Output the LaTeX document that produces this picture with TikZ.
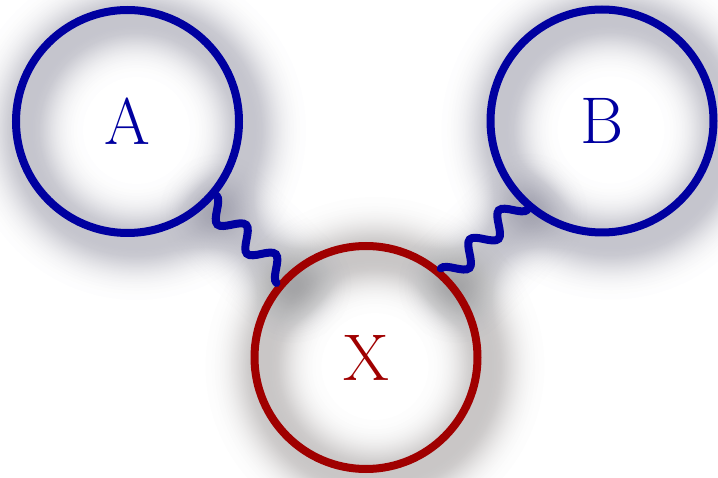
\documentclass[tikz,border=0pt]{standalone}
\usetikzlibrary{decorations}
\definecolor{nblue}{RGB}{0,0,160}
\definecolor{nred}{RGB}{160,0,0}
\definecolor{shdblue}{RGB}{45,45,75}
\definecolor{shdred}{RGB}{60,50,50}
\pgfdeclarelayer{shadowbg}
\pgfsetlayers{shadowbg,main}
% cosine-phase snake: starts at a crest, half periods
\pgfdeclaredecoration{cosnake}{start}{
  \state{start}[width=0pt, next state=down]{
    \pgfpathmoveto{\pgfpoint{0pt}{\pgfdecorationsegmentamplitude}}
  }
  \state{down}[switch if less than=0.5\pgfdecorationsegmentlength to final,
               width=0.5\pgfdecorationsegmentlength, next state=up]{
    \pgfpathcurveto
      {\pgfpoint{0.18*\pgfdecorationsegmentlength}{\pgfdecorationsegmentamplitude}}
      {\pgfpoint{0.32*\pgfdecorationsegmentlength}{-\pgfdecorationsegmentamplitude}}
      {\pgfpoint{0.5*\pgfdecorationsegmentlength}{-\pgfdecorationsegmentamplitude}}
  }
  \state{up}[switch if less than=0.5\pgfdecorationsegmentlength to final,
             width=0.5\pgfdecorationsegmentlength, next state=down]{
    \pgfpathcurveto
      {\pgfpoint{0.18*\pgfdecorationsegmentlength}{-\pgfdecorationsegmentamplitude}}
      {\pgfpoint{0.32*\pgfdecorationsegmentlength}{\pgfdecorationsegmentamplitude}}
      {\pgfpoint{0.5*\pgfdecorationsegmentlength}{\pgfdecorationsegmentamplitude}}
  }
  \state{final}{}
}
\begin{document}
\begin{tikzpicture}[x=1pt,y=-1pt,
  vnode/.style={circle, draw, line width=8pt, minimum size=223pt, inner sep=0pt,
    font=\fontsize{66}{72}\selectfont},
  wavy/.style={decorate, decoration={cosnake, segment length=#1, amplitude=10pt},
    line width=8pt, nblue, line cap=round},
  shadowlayer/.style={opacity=0.0078, line cap=round}]
\useasboundingbox (0,0) rectangle (718,478);
\node[vnode, draw=nblue, text=nblue] (A) at (127.5,121.5) {A};
\node[vnode, draw=nblue, text=nblue] (B) at (602,121) {B};
\node[vnode, draw=nred, text=nred] (X) at (366,357.5) {X};
\draw[wavy=41.6pt] (A) -- (X);
\draw[wavy=41.1pt] (B) -- (X);
% soft blurred shadows, behind everything
\begin{pgfonlayer}{shadowbg}
\foreach \k in {1,...,39} {
  \pgfmathsetmacro\ww{2*21*sqrt(2*ln(40/\k))+2}
  \foreach \nd/\sc in {A/shdblue, B/shdblue, X/shdred}
    \draw[shadowlayer, \sc, line width=\ww pt]
      ([shift={(9,9)}]\nd.center) circle[radius=111.5];
  \draw[shadowlayer, shdblue, line width=\ww pt]
    ([shift={(9,9)}]A.-45) -- ([shift={(9,9)}]X.135);
  \draw[shadowlayer, shdblue, line width=\ww pt]
    ([shift={(9,9)}]B.-135) -- ([shift={(9,9)}]X.45);
}
\end{pgfonlayer}
\end{tikzpicture}
\end{document}
